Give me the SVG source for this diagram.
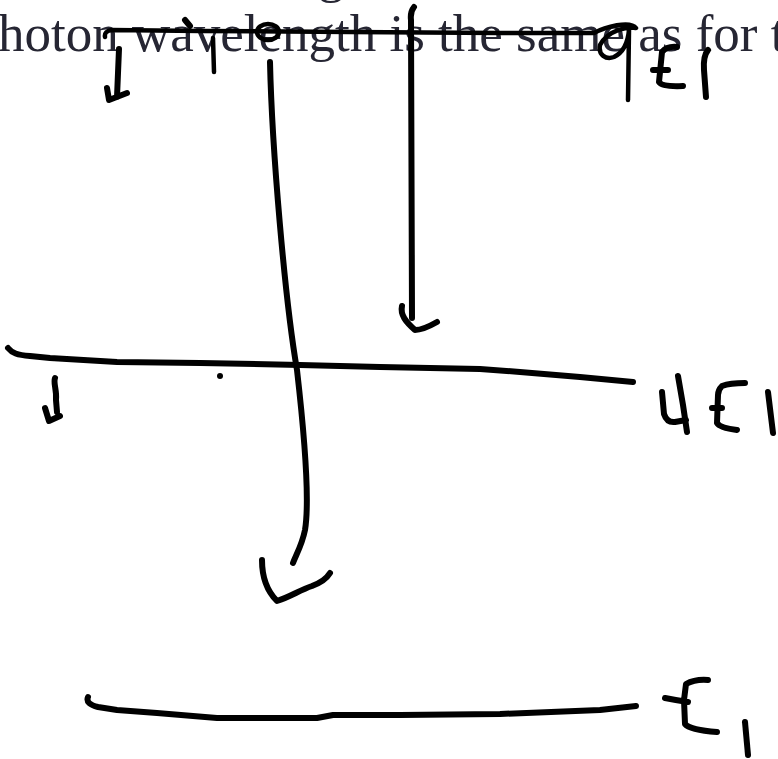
<svg xmlns="http://www.w3.org/2000/svg" width="778" height="759" viewBox="0 0 778 759">
<style>
.ink{fill:none;stroke:#000;stroke-width:6;stroke-linecap:round;stroke-linejoin:round}
.thin{stroke-width:4.5}
.bg{font-family:"Liberation Serif","Times New Roman",serif;font-size:53px;fill:#262633}
</style>
<rect width="778" height="759" fill="#fff"/>
<g id="background-text">
<text class="bg" x="318" y="-8">g</text>
<text class="bg" x="-2" y="51">hoton wavelength is the same as for t</text>
</g>
<g id="level-top">
<path class="ink thin" d="M105,37 Q104,31 112,30 L200,31 L350,32 L500,33 L594,33 C605,27 630,20 636,28 C628,26 608,30 600,45 C598,55 606,60 614,57 C624,52 628,42 629,30 L628,100"/>
<path class="ink" d="M185,20 L190,26"/>
<path class="ink thin" d="M213,38 L214,72"/>
<ellipse class="ink thin" cx="268" cy="32" rx="11" ry="8"/>
</g>
<g id="label-top">
<path class="ink" d="M677,47 Q667,46 662,52 L659,82 Q662,87 683,86 M653,70 L668,70"/>
<path class="ink" d="M708,50 Q703,56 704,70 L706,97"/>
</g>
<g id="level-middle">
<path class="ink" d="M8,348 C12,353 17,355 30,356 L50,358 L117,362 L200,363 L300,365 L380,367 L480,369 L520,372 L580,377 L633,382"/>
<circle cx="220" cy="376" r="3" fill="#000"/>
</g>
<g id="label-middle">
<path class="ink" d="M662,392 L664,414 Q667,423 675,422 L686,420 M678,376 L683,405 L687,432"/>
<path class="ink" d="M745,383 Q730,383 722,386 Q718,390 718,395 L717,423 Q720,428 737,430 M712,408 L722,408"/>
<path class="ink" d="M768,392 L773,433"/>
</g>
<g id="level-bottom">
<path class="ink" d="M88,697 C86,702 90,705 98,707 L117,710 L157,713 L217,718 L317,718 L333,715 L400,715 L500,714 L600,710 L636,706"/>
</g>
<g id="label-bottom">
<path class="ink" d="M708,680 Q695,679 686,684 L684,700 L685,724 Q690,730 717,732 M665,698 Q675,700 688,702"/>
<path class="ink" d="M745,722 L748,755"/>
</g>
<g id="connectors">
<path class="ink" d="M119,49 L117,97 M107,88 L109,100 L127,93"/>
<path class="ink" d="M270,62 C272,150 285,300 297,370 C305,440 310,500 305,530 C302,545 296,555 293,563"/>
<path class="ink" d="M262,560 C262,575 266,590 277,601 C290,597 300,590 312,586 C320,583 327,578 330,573"/>
<path class="ink" d="M414,7 Q410,12 411,20 L412,318"/>
<path class="ink" d="M402,306 C400,315 406,322 415,330 C422,330 430,326 437,322"/>
<path class="ink" d="M55,378 C53,383 57,390 56,400 L57,412 M45,408 L49,421 L60,416"/>
</g>
</svg>
